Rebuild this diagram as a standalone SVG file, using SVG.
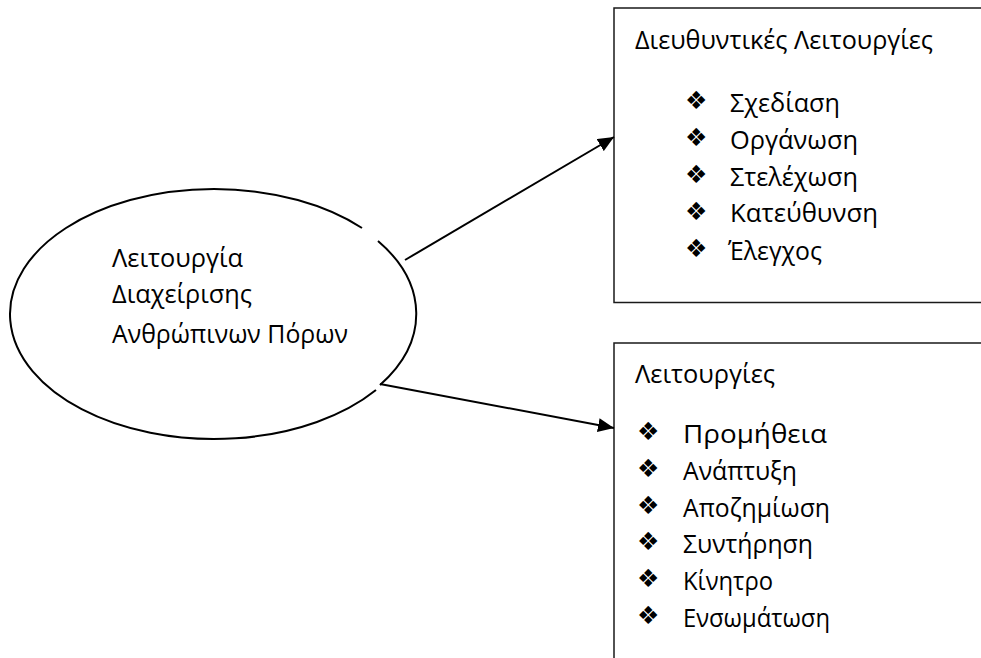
<svg xmlns="http://www.w3.org/2000/svg" width="981" height="658" viewBox="0 0 981 658">
  <defs>
    <marker id="arrowhead" markerUnits="userSpaceOnUse" markerWidth="18" markerHeight="14" refX="16" refY="7" orient="auto">
      <path d="M0,0 L16,7 L0,14 Z" fill="#000"/>
    </marker>
  </defs>
  <style>
    .txt { font-family: "Open Sans", "Noto Sans", "DejaVu Sans", sans-serif; font-size: 25px; fill: #000; }
    .bul { font-family: "DejaVu Sans", sans-serif; font-size: 25px; fill: #000; }
    .box { fill: #fff; stroke: #1a1a1a; stroke-width: 1.5; }
    .edge { fill: none; stroke: #000; stroke-width: 2; }
    .conn { fill: none; stroke: #000; stroke-width: 2; marker-end: url(#arrowhead); }
  </style>
  <rect width="981" height="658" fill="#fff"/>

  <!-- central function oval -->
  <g id="hrm">
    <path class="edge" d="M378,241 A204,125 0 0 1 380,385 M376,390 A204,125 0 1 1 362,228"/>
    <text class="txt" x="112" y="267" textLength="131" lengthAdjust="spacingAndGlyphs">Λειτουργία</text>
    <text class="txt" x="112" y="303" textLength="140" lengthAdjust="spacingAndGlyphs">Διαχείρισης</text>
    <text class="txt" x="112" y="343" textLength="236" lengthAdjust="spacingAndGlyphs">Ανθρώπινων Πόρων</text>
  </g>

  <!-- managerial functions box -->
  <g id="managerial">
    <rect class="box" x="614" y="8" width="380" height="294.5"/>
    <text class="txt" x="635" y="48.5" textLength="298" lengthAdjust="spacingAndGlyphs">Διευθυντικές Λειτουργίες</text>
    <text class="bul" x="685" y="109">❖</text>
    <text class="txt" x="730" y="111.5" textLength="110" lengthAdjust="spacingAndGlyphs">Σχεδίαση</text>
    <text class="bul" x="685" y="146">❖</text>
    <text class="txt" x="730" y="149" textLength="128" lengthAdjust="spacingAndGlyphs">Οργάνωση</text>
    <text class="bul" x="685" y="183">❖</text>
    <text class="txt" x="730" y="185.5" textLength="128" lengthAdjust="spacingAndGlyphs">Στελέχωση</text>
    <text class="bul" x="685" y="220">❖</text>
    <text class="txt" x="730" y="222" textLength="148" lengthAdjust="spacingAndGlyphs">Κατεύθυνση</text>
    <text class="bul" x="685" y="257">❖</text>
    <text class="txt" x="728" y="260" textLength="94" lengthAdjust="spacingAndGlyphs">Έλεγχος</text>
  </g>

  <!-- operational functions box -->
  <g id="operational">
    <rect class="box" x="614" y="343" width="380" height="330"/>
    <text class="txt" x="635" y="383" textLength="140" lengthAdjust="spacingAndGlyphs">Λειτουργίες</text>
    <text class="bul" x="637" y="440">❖</text>
    <text class="txt" x="683" y="443" textLength="144" lengthAdjust="spacingAndGlyphs">Προμήθεια</text>
    <text class="bul" x="637" y="477">❖</text>
    <text class="txt" x="683" y="480" textLength="114" lengthAdjust="spacingAndGlyphs">Ανάπτυξη</text>
    <text class="bul" x="637" y="514">❖</text>
    <text class="txt" x="683" y="517" textLength="147" lengthAdjust="spacingAndGlyphs">Αποζημίωση</text>
    <text class="bul" x="637" y="550">❖</text>
    <text class="txt" x="683" y="553" textLength="130" lengthAdjust="spacingAndGlyphs">Συντήρηση</text>
    <text class="bul" x="637" y="587">❖</text>
    <text class="txt" x="683" y="590" textLength="90" lengthAdjust="spacingAndGlyphs">Κίνητρο</text>
    <text class="bul" x="637" y="624">❖</text>
    <text class="txt" x="683" y="627" textLength="147" lengthAdjust="spacingAndGlyphs">Ενσωμάτωση</text>
  </g>

  <!-- connectors -->
  <g id="connectors">
    <line class="conn" x1="405" y1="260" x2="614" y2="137"/>
    <line class="conn" x1="380" y1="384" x2="614" y2="428"/>
  </g>
</svg>
